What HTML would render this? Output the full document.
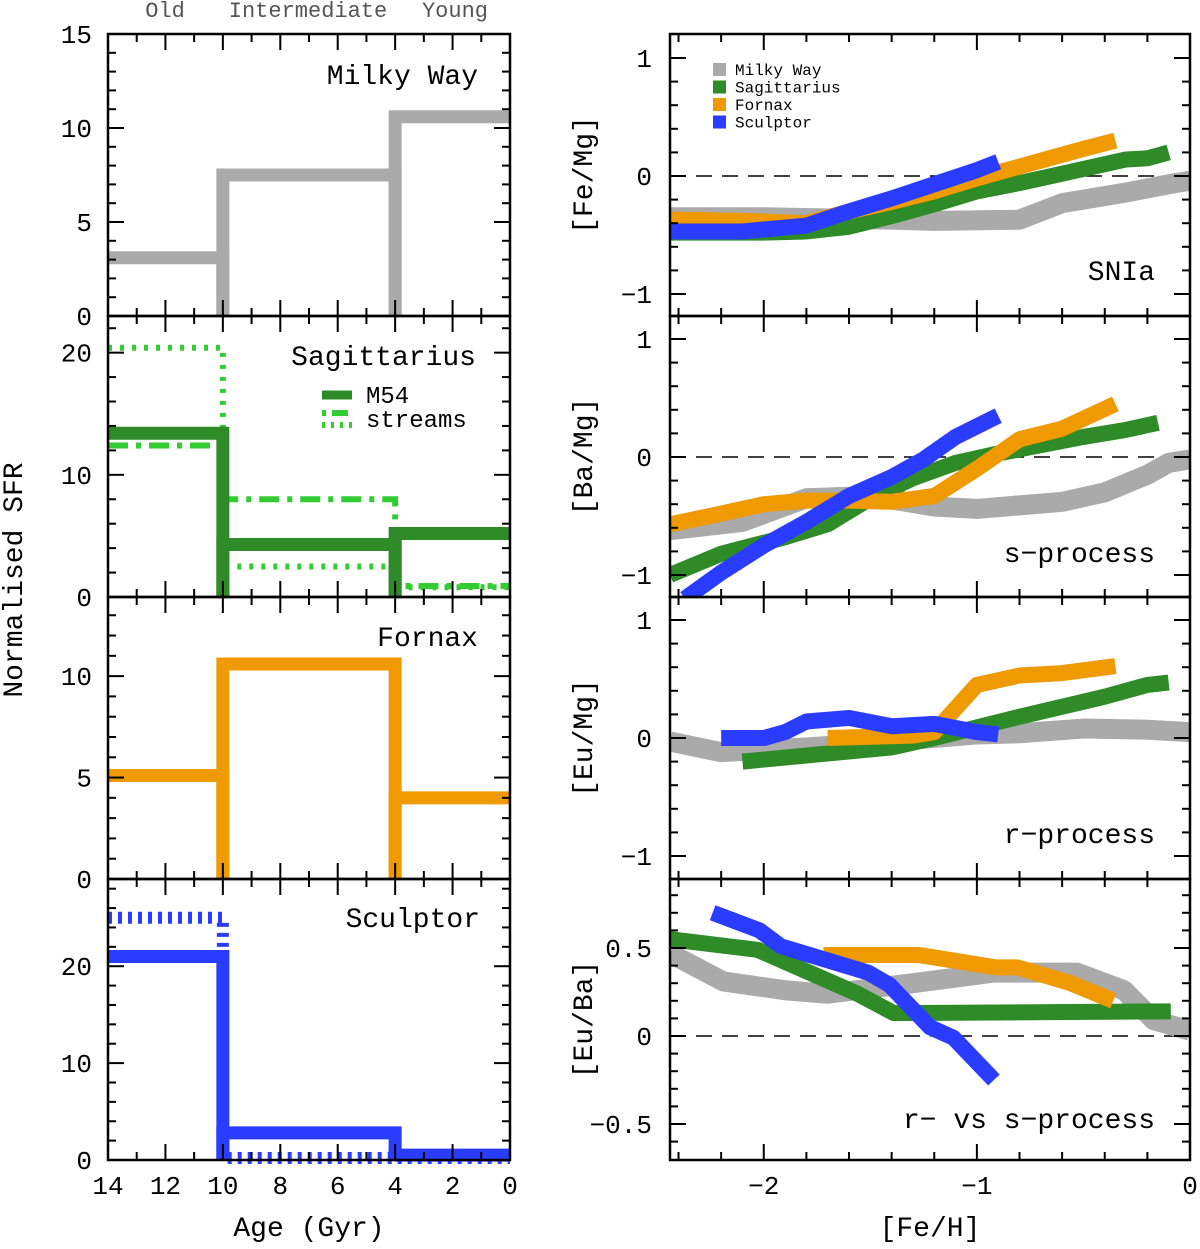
<!DOCTYPE html>
<html><head><meta charset="utf-8"><style>
body{margin:0;background:#fff}
svg text{font-family:"Liberation Mono","DejaVu Sans Mono",monospace}
</style></head><body>
<svg id="fig" width="1200" height="1244" viewBox="0 0 1200 1244" xmlns="http://www.w3.org/2000/svg"></svg>
<script>
// ---------- Left: SFR step data (age bins in Gyr) ----------
const binEdges = [14, 10, 4, 0];
const mwSFR = [3.1, 7.5, 10.6];
const sagM54 = [13.4, 4.3, 5.2];
const sagDotted = [20.4, 2.5, 0.8];
const sagDashDot = [12.4, 8.0, 0.9];
const fornaxSFR = [5.1, 10.6, 4.0];
const sculptorSFR = [21.0, 2.8, 0.5];
const sculptorDotted = [25.0, 0.2, 0.2];
const mwYTicks = [0, 5, 10, 15];
const sagYTicks = [0, 10, 20];
const fnxYTicks = [0, 5, 10];
const sclYTicks = [0, 10, 20];
const ageTicks = [14, 12, 10, 8, 6, 4, 2, 0];
// ---------- Right: abundance tracks ([Fe/H], value) ----------
const feMgMW = [[-2.44,-0.35],[-2.0,-0.35],[-1.4,-0.37],[-1.2,-0.38],[-0.8,-0.37],[-0.7,-0.3],[-0.6,-0.23],[-0.5,-0.2],[-0.3,-0.14],[-0.1,-0.07],[0,-0.04]];
const feMgSag = [[-2.44,-0.48],[-2.0,-0.48],[-1.8,-0.47],[-1.6,-0.43],[-1.4,-0.34],[-1.2,-0.24],[-1.0,-0.13],[-0.8,-0.06],[-0.6,0.02],[-0.4,0.1],[-0.3,0.14],[-0.2,0.15],[-0.1,0.2]];
const feMgFnx = [[-2.44,-0.37],[-2.1,-0.38],[-1.8,-0.4],[-1.6,-0.3],[-1.4,-0.22],[-1.2,-0.13],[-1.0,-0.02],[-0.8,0.08],[-0.6,0.18],[-0.5,0.23],[-0.35,0.3]];
const feMgScl = [[-2.44,-0.47],[-2.1,-0.47],[-1.8,-0.42],[-1.6,-0.3],[-1.4,-0.19],[-1.2,-0.07],[-1.0,0.05],[-0.9,0.12]];
const baMgMW = [[-2.44,-0.62],[-2.1,-0.55],[-1.8,-0.35],[-1.5,-0.33],[-1.2,-0.42],[-1.0,-0.44],[-0.6,-0.38],[-0.4,-0.3],[-0.2,-0.15],[-0.1,-0.05],[0,-0.02]];
const baMgSag = [[-2.44,-1.0],[-2.2,-0.82],[-1.9,-0.68],[-1.7,-0.57],[-1.5,-0.35],[-1.3,-0.18],[-1.1,-0.05],[-0.9,0.03],[-0.7,0.1],[-0.5,0.17],[-0.3,0.23],[-0.15,0.29]];
const baMgFnx = [[-2.44,-0.57],[-2.2,-0.48],[-2.0,-0.4],[-1.8,-0.37],[-1.6,-0.37],[-1.4,-0.38],[-1.2,-0.33],[-1.0,-0.1],[-0.8,0.15],[-0.6,0.24],[-0.35,0.45]];
const baMgScl = [[-2.37,-1.2],[-2.2,-0.98],[-2.0,-0.75],[-1.8,-0.55],[-1.6,-0.33],[-1.4,-0.17],[-1.25,-0.02],[-1.1,0.17],[-0.9,0.35]];
const euMgMW = [[-2.44,-0.03],[-2.2,-0.12],[-1.8,-0.08],[-1.4,-0.03],[-1.0,0.03],[-0.8,0.04],[-0.5,0.08],[-0.2,0.07],[0,0.05]];
const euMgSag = [[-2.1,-0.2],[-1.4,-0.08],[-1.2,0.0],[-0.8,0.18],[-0.4,0.35],[-0.2,0.45],[-0.1,0.47]];
const euMgFnx = [[-1.7,0.0],[-1.3,0.02],[-1.2,0.05],[-1.0,0.45],[-0.8,0.53],[-0.6,0.55],[-0.35,0.61]];
const euMgScl = [[-2.2,0.0],[-2.0,0.0],[-1.9,0.05],[-1.8,0.14],[-1.6,0.17],[-1.4,0.1],[-1.2,0.12],[-1.0,0.05],[-0.9,0.03]];
const euBaMW = [[-2.44,0.47],[-2.19,0.31],[-1.9,0.26],[-1.7,0.24],[-1.3,0.3],[-0.92,0.36],[-0.53,0.36],[-0.31,0.26],[-0.17,0.09],[0,0.03]];
const euBaSag = [[-2.44,0.55],[-2.03,0.49],[-1.56,0.24],[-1.39,0.13],[-0.09,0.14]];
const euBaFnx = [[-1.72,0.46],[-1.27,0.46],[-0.91,0.39],[-0.81,0.39],[-0.56,0.3],[-0.36,0.2]];
const euBaScl = [[-2.24,0.7],[-2.02,0.6],[-1.92,0.51],[-1.51,0.36],[-1.41,0.29],[-1.22,0.05],[-1.11,-0.01],[-0.92,-0.25]];
const fehTicks = [-2, -1, 0];
const abTicks = [-1, 0, 1];
const euBaTicks = [-0.5, 0, 0.5];

const C = {mw:'#aaaaaa', sag:'#2e8b27', fnx:'#ee9a00', scl:'#2a3cff', lg:'#33cc33'};
const NS = 'http://www.w3.org/2000/svg';
const svg = document.getElementById('fig');
function el(tag, attrs, parent){const e=document.createElementNS(NS,tag);for(const k in attrs)e.setAttribute(k,attrs[k]);(parent||svg).appendChild(e);return e;}
function txt(s,x,y,size,anchor,parent,fill){const t=el('text',{x:x,y:y,'font-size':size,'text-anchor':anchor||'middle',fill:fill||'#000'},parent);t.textContent=s;return t;}

// ---------- Left panels ----------
const LX0=108, LX1=510;
const ax = a => LX1 - a*(LX1-LX0)/14;
const leftPanels = [
 {name:'milky-way-sfr', top:34, bot:316, ymax:15, ticks:mwYTicks, minor:1},
 {name:'sagittarius-sfr', top:316, bot:597, ymax:23, ticks:sagYTicks, minor:2},
 {name:'fornax-sfr', top:597, bot:879, ymax:13.9, ticks:fnxYTicks, minor:1},
 {name:'sculptor-sfr', top:879, bot:1160, ymax:29, ticks:sclYTicks, minor:2}
];
function yS(p,v){return p.bot - v*(p.bot-p.top)/p.ymax;}
function boxSteps(p,vals,color,g,name){
  for(let i=0;i<vals.length;i++){
    const l=ax(binEdges[i]), r=ax(binEdges[i+1]), y=yS(p,vals[i]);
    let d='';
    if(i>0) d+=`M${l},${p.bot}L${l},${y}`; else d+=`M${l},${y}`;
    d+=`L${r},${y}`;
    if(i<vals.length-1) d+=`L${r},${p.bot}`;
    const e=el('path',{d:d,fill:'none',stroke:color,'stroke-width':13,'stroke-linejoin':'miter'},g);
    
    
  }
}
function stepLine(p,vals,color,dash,w,g,name){
  let d='';
  for(let i=0;i<vals.length;i++){
    const l=ax(binEdges[i]), r=ax(binEdges[i+1]), y=yS(p,vals[i]);
    d+=(i===0?'M':'L')+l+','+y+'L'+r+','+y;
  }
  const e=el('path',{d:d,fill:'none',stroke:color,'stroke-width':w,'stroke-dasharray':dash},g);
  
  
}
leftPanels.forEach((p,pi)=>{
  const g=el('g',{});
  // data
  if(pi===0) boxSteps(p,mwSFR,C.mw,g,'mw-sfr');
  if(pi===1){ stepLine(p,sagDotted,C.lg,'4,8',6,g,'sag-streams-dotted'); stepLine(p,sagDashDot,C.lg,'20,8,5,8',6,g,'sag-streams-dashdot'); boxSteps(p,sagM54,C.sag,g,'sag-m54');}
  if(pi===2) boxSteps(p,fornaxSFR,C.fnx,g,'fornax-sfr');
  if(pi===3){ stepLine(p,sculptorDotted,C.scl,'4,6',12,g,'sculptor-dotted'); boxSteps(p,sculptorSFR,C.scl,g,'sculptor-sfr');}
  // frame
  el('rect',{x:LX0,y:p.top,width:LX1-LX0,height:p.bot-p.top,fill:'none',stroke:'#000','stroke-width':2.5},g);
  // x ticks
  for(let a=0;a<=14;a++){const x=ax(a),L=a%2===0?16:8;
    el('line',{x1:x,y1:p.bot,x2:x,y2:p.bot-L,stroke:'#000','stroke-width':2},g);
    el('line',{x1:x,y1:p.top,x2:x,y2:p.top+L,stroke:'#000','stroke-width':2},g);}
  // y ticks
  for(let v=0;v<=p.ymax;v+=p.minor){const y=yS(p,v);const major=p.ticks.includes(v);const L=major?16:8;
    el('line',{x1:LX0,y1:y,x2:LX0+L,y2:y,stroke:'#000','stroke-width':2},g);
    el('line',{x1:LX1,y1:y,x2:LX1-L,y2:y,stroke:'#000','stroke-width':2},g);}
  p.ticks.forEach(v=>{const t=txt(String(v),92,yS(p,v)+9,26,'end',g);});
});
txt('Milky Way',478,84,28,'end');
txt('Sagittarius',476,365,28,'end');
txt('Fornax',478,646,28,'end');
txt('Sculptor',480,927,28,'end');
// sag legend
const lg=el('g',{});
el('line',{x1:322,y1:395,x2:352,y2:395,stroke:C.sag,'stroke-width':9},lg);
txt('M54',366,403,24,'start',lg);
el('line',{x1:322,y1:413,x2:352,y2:413,stroke:C.lg,'stroke-width':6,'stroke-dasharray':'4,6,16,4'},lg);
el('line',{x1:322,y1:425,x2:352,y2:425,stroke:C.lg,'stroke-width':6,'stroke-dasharray':'3,6'},lg);
txt('streams',366,427,24,'start',lg);
ageTicks.forEach(a=>{const t=txt(String(a),ax(a),1194,26,'middle');});
txt('Age (Gyr)',309,1236,28,'middle');
const yt=txt('Normalised SFR',22,580,28,'middle');yt.setAttribute('transform','rotate(-90 22 580)');
txt('Old',165,17,22,'middle',null,'#555');
txt('Intermediate',308,17,22,'middle',null,'#555');
txt('Young',455,17,22,'middle',null,'#555');

// ---------- Right panels ----------
const RX0=670, RX1=1190;
const fx = f => RX1 + f*(RX1-RX0)/2.44;
const rightPanels = [
 {name:'fe-mg',top:34,bot:316,zero:176,unit:118,ticks:abTicks,minor:0.2,label:'[Fe/Mg]',tag:'SNIa',tagY:280,dash:true,data:[feMgMW,feMgSag,feMgFnx,feMgScl]},
 {name:'ba-mg',top:316,bot:597,zero:457,unit:118,ticks:abTicks,minor:0.2,label:'[Ba/Mg]',tag:'s\u2212process',tagY:562,dash:true,data:[baMgMW,baMgSag,baMgFnx,baMgScl]},
 {name:'eu-mg',top:597,bot:879,zero:738,unit:118,ticks:abTicks,minor:0.2,label:'[Eu/Mg]',tag:'r\u2212process',tagY:843,dash:false,data:[euMgMW,euMgSag,euMgFnx,euMgScl]},
 {name:'eu-ba',top:879,bot:1160,zero:1036,unit:176,ticks:euBaTicks,minor:0.1,label:'[Eu/Ba]',tag:'r\u2212 vs s\u2212process',tagY:1128,dash:true,data:[euBaMW,euBaSag,euBaFnx,euBaScl]}
];
const serNames=['milky-way','sagittarius','fornax','sculptor'];
const serCol=[C.mw,C.sag,C.fnx,C.scl];
const serW=[20,16,16,16];
rightPanels.forEach(p=>{
  const g=el('g',{});
  const cp=el('clipPath',{id:'cp-'+p.name},g);
  el('rect',{x:RX0,y:p.top,width:RX1-RX0,height:p.bot-p.top},cp);
  const ys=v=>p.zero - v*p.unit;
  if(p.dash) el('line',{x1:RX0,y1:p.zero,x2:RX1,y2:p.zero,stroke:'#000','stroke-width':1.5,'stroke-dasharray':'16,10'},g);
  p.data.forEach((s,i)=>{
    const e=el('polyline',{points:s.map(q=>fx(q[0])+','+ys(q[1])).join(' '),fill:'none',stroke:serCol[i],'stroke-width':serW[i],'stroke-linejoin':'round','clip-path':'url(#cp-'+p.name+')'},g);
    
    
  });
  el('rect',{x:RX0,y:p.top,width:RX1-RX0,height:p.bot-p.top,fill:'none',stroke:'#000','stroke-width':2.5},g);
  for(let k=-12;k<=0;k++){const x=fx(k*0.2);const L=(k%5===0)?16:8;
    el('line',{x1:x,y1:p.bot,x2:x,y2:p.bot-L,stroke:'#000','stroke-width':2},g);
    el('line',{x1:x,y1:p.top,x2:x,y2:p.top+L,stroke:'#000','stroke-width':2},g);}
  const n=Math.round(2/p.minor)+4;
  for(let k=-n;k<=n;k++){const v=k*p.minor;const y=ys(v);if(y<p.top+1||y>p.bot-1)continue;
    const major=p.ticks.some(t=>Math.abs(t-v)<1e-6);const L=major?16:8;
    el('line',{x1:RX0,y1:y,x2:RX0+L,y2:y,stroke:'#000','stroke-width':2},g);
    el('line',{x1:RX1,y1:y,x2:RX1-L,y2:y,stroke:'#000','stroke-width':2},g);}
  p.ticks.forEach(v=>{const t=txt(String(v).replace('-','\u2212'),652,ys(v)+9,26,'end',g);});
  const t=txt(p.tag,1155,p.tagY,28,'end',g);
  const cy=(p.top+p.bot)/2;
  const yl=txt(p.label,592,cy,28,'middle',g);yl.setAttribute('transform','rotate(-90 592 '+cy+')');
});
fehTicks.forEach(f=>{const t=txt(String(f).replace('-','\u2212'),fx(f),1194,26,'middle');});
txt('[Fe/H]',930,1236,28,'middle');
// legend
const leg=el('g',{});
['Milky Way','Sagittarius','Fornax','Sculptor'].forEach((s,i)=>{
  const y=70+i*17.5;
  const r=el('rect',{x:713,y:y-7,width:13,height:13,fill:serCol[i]},leg);
  
  
  const t=txt(s,735,y+5,16,'start',leg);
  
  
});
</script>
</body></html>
